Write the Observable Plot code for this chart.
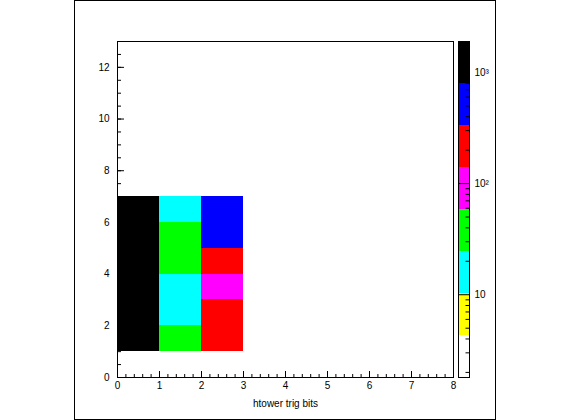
<!DOCTYPE html>
<html><head><meta charset="utf-8">
<script src="https://cdn.jsdelivr.net/npm/d3@7"></script>
<script src="https://cdn.jsdelivr.net/npm/@observablehq/plot@0.6"></script>
<style>
body{margin:0;background:#fff;}
#wrap{position:relative;width:570px;height:420px;overflow:hidden;font-family:"Liberation Sans",Arial,sans-serif;}
#wrap svg{position:absolute;left:0;top:0;}
#border{position:absolute;left:74px;top:0;width:422px;height:420px;border:1px solid #000;box-sizing:border-box;pointer-events:none;}
</style></head><body><div id="wrap"></div>
<script>
// 2D histogram bins (x bin low edge, y bin low edge, content)
const xBins = [0, 0, 0, 0, 0, 0,  1, 1, 1, 1, 1, 1,  2, 2, 2, 2, 2, 2];
const yBins = [1, 2, 3, 4, 5, 6,  1, 2, 3, 4, 5, 6,  1, 2, 3, 4, 5, 6];
const counts = [1850, 1620, 1540, 1480, 1390, 1210,  38, 17, 14, 31, 45, 19,  210, 180, 95, 160, 420, 510];

// colour contour levels (log-spaced) and palette
const levels = [1.8, 4.3, 10.26, 24.5, 58.5, 139.7, 333.6, 796.6, 1900];
const palette = ["#ffffff", "#ffff00", "#00ffff", "#00ff00", "#ff00ff", "#ff0000", "#0000ff", "#000000"];

// axis ticks
const xMajor = [0, 1, 2, 3, 4, 5, 6, 7, 8];
const xMinor = d3.range(0, 8.001, 0.2);
const yMajor = [0, 2, 4, 6, 8, 10, 12];
const yMinor = d3.range(0, 13.001, 0.5);
const zMajor = [10, 100, 1000];
const zMinor = [2, 3, 4, 5, 6, 7, 8, 9, 20, 30, 40, 50, 60, 70, 80, 90, 200, 300, 400, 500, 600, 700, 800, 900];
const zLabels = {10: "10", 100: "10²", 1000: "10³"};
const xTitle = "htower trig bits";

const cells = counts.map((c, i) => ({x: xBins[i], y: yBins[i], count: c}));
const bands = palette.map((c, i) => ({lo: levels[i], hi: levels[i + 1], c}));

const font = {fontFamily: "'Liberation Sans', Arial, sans-serif", fontSize: "10px", background: "transparent", color: "black"};

const main = Plot.plot({
  width: 570, height: 420,
  marginLeft: 117, marginRight: 117, marginTop: 41, marginBottom: 43,
  style: font,
  x: {domain: [0, 8]},
  y: {domain: [0, 13]},
  color: {type: "threshold", domain: levels.slice(1, -1), range: palette},
  marks: [
    Plot.rect(cells, {x1: "x", x2: d => d.x + 1, y1: "y", y2: d => d.y + 1, fill: "count", inset: 0, shapeRendering: "crispEdges"}),
    Plot.frame({stroke: "black"}),
    Plot.axisX(xMinor, {tickSize: -3, fill: "none"}),
    Plot.axisX(xMajor, {tickSize: -6, fill: "none"}),
    Plot.axisX(xMajor, {tickSize: 0, tickPadding: 4, label: null}),
    Plot.axisY(yMinor, {tickSize: -4, fill: "none"}),
    Plot.axisY(yMajor, {tickSize: -7, fill: "none"}),
    Plot.axisY(yMajor, {tickSize: 0, tickPadding: 8, label: null}),
    Plot.text([xTitle], {frameAnchor: "bottom", dy: 26, lineAnchor: "middle", fontSize: 10})
  ]
});

const bar = Plot.plot({
  width: 570, height: 420,
  marginLeft: 458, marginRight: 101, marginTop: 41, marginBottom: 43,
  style: font,
  x: {domain: [0, 1], axis: null},
  y: {type: "log", domain: [levels[0], levels[levels.length - 1]]},
  color: {type: "identity"},
  marks: [
    Plot.rect(bands, {x1: 0, x2: 1, y1: "lo", y2: "hi", fill: "c", inset: 0, shapeRendering: "crispEdges"}),
    Plot.axisY(zMinor, {anchor: "right", tickSize: -4.5, fill: "none"}),
    Plot.axisY(zMajor, {anchor: "right", tickSize: -11, fill: "none"}),
    Plot.axisY(zMajor, {anchor: "right", tickSize: 0, tickPadding: 5, label: null, tickFormat: d => zLabels[d]}),
    Plot.frame({stroke: "black"})
  ]
});

const wrap = document.getElementById("wrap");
wrap.appendChild(main);
wrap.appendChild(bar);
const border = document.createElement("div");
border.id = "border";
wrap.appendChild(border);
</script>
</body></html>
